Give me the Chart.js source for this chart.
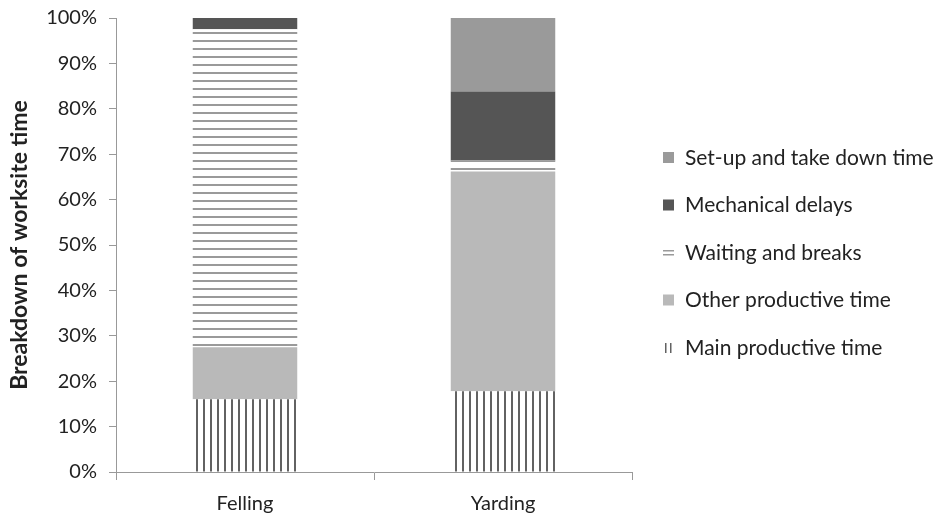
<!DOCTYPE html>
<html>
<head>
<meta charset="utf-8">
<script src="https://cdn.jsdelivr.net/npm/chart.js@4"></script>
<style>
  html, body { margin: 0; padding: 0; background: #fff; }
  #wrap { width: 936px; height: 521px; }
</style>
</head>
<body>
<div id="wrap"><canvas id="myChart" width="936" height="521"></canvas></div>
<script>
var categories = ['Felling', 'Yarding'];
var mainProductive = [16.0, 17.8];
var otherProductive = [11.5, 48.4];
var waitingBreaks = [70.0, 2.4];
var mechanicalDelays = [2.5, 15.2];
var setupTakedown = [0, 16.2];
var yTicks = [0, 10, 20, 30, 40, 50, 60, 70, 80, 90, 100];

function stripes(w, h, color, vertical) {
    var c = document.createElement('canvas');
    c.width = w;
    c.height = h;
    var g = c.getContext('2d');
    g.fillStyle = '#fff';
    g.fillRect(0, 0, w, h);
    g.fillStyle = color;
    if (vertical) g.fillRect(0, 0, 2, h);
    else g.fillRect(0, 0, w, 2);
    return g.createPattern(c, 'repeat');
}

var ctx = document.getElementById('myChart').getContext('2d');
var vLines = stripes(7, 7, '#626262', true);
var hLines = stripes(8, 8, '#9a9a9a', false);

var legendItems = [
    { text: 'Set-up and take down time', kind: 'fill', color: '#9a9a9a' },
    { text: 'Mechanical delays', kind: 'fill', color: '#555555' },
    { text: 'Waiting and breaks', kind: 'h', color: '#9a9a9a' },
    { text: 'Other productive time', kind: 'fill', color: '#b9b9b9' },
    { text: 'Main productive time', kind: 'v', color: '#626262' }
];

var sideLegend = {
    id: 'sideLegend',
    afterDraw: function (chart) {
        var g = chart.ctx;
        g.save();
        g.font = '21px Lato';
        g.textBaseline = 'middle';
        for (var i = 0; i < legendItems.length; i++) {
            var it = legendItems[i];
            var cy = 157 + i * 47.5;
            var x0 = 663, y0 = cy - 5;
            g.fillStyle = it.color;
            if (it.kind == 'fill') {
                g.fillRect(x0, y0, 11, 11);
            } else if (it.kind == 'h') {
                g.fillRect(x0, y0 + 3, 11, 1.5);
                g.fillRect(x0, y0 + 7, 11, 1.5);
            } else {
                g.fillRect(x0 + 2, y0 + 1, 1.5, 10);
                g.fillRect(x0 + 7, y0 + 1, 1.5, 10);
            }
            g.fillStyle = '#222';
            g.fillText(it.text, 685, cy + 1);
        }
        g.restore();
    }
};

var myChart = new Chart(ctx, {
    type: 'bar',
    data: {
        labels: categories,
        datasets: [
            { label: 'Main productive time', data: mainProductive, backgroundColor: vLines },
            { label: 'Other productive time', data: otherProductive, backgroundColor: '#b9b9b9' },
            { label: 'Waiting and breaks', data: waitingBreaks, backgroundColor: hLines },
            { label: 'Mechanical delays', data: mechanicalDelays, backgroundColor: '#555555' },
            { label: 'Set-up and take down time', data: setupTakedown, backgroundColor: '#9a9a9a' }
        ]
    },
    options: {
        responsive: false,
        animation: false,
        layout: { padding: { top: 18, right: 304, bottom: 0, left: 0 } },
        datasets: { bar: { categoryPercentage: 1, barPercentage: 0.405 } },
        plugins: {
            legend: { display: false },
            tooltip: { enabled: false }
        },
        scales: {
            x: {
                stacked: true,
                afterFit: function (s) { s.height = 49; },
                grid: { drawOnChartArea: false, tickLength: 8, color: '#999', offset: true },
                border: { color: '#999' },
                ticks: { color: '#222', font: { family: 'Lato', size: 20 }, padding: 12 }
            },
            y: {
                stacked: true,
                min: 0,
                max: 100,
                afterFit: function (s) {
                    s.width = 116;
                    s.paddingTop = 0;
                    s.paddingBottom = 0;
                },
                afterBuildTicks: function (s) {
                    s.ticks = yTicks.map(function (v) { return { value: v }; });
                },
                grid: { drawOnChartArea: false, tickLength: 7, color: '#999' },
                border: { color: '#999' },
                ticks: {
                    color: '#222',
                    font: { family: 'Lato', size: 20 },
                    padding: 12,
                    callback: function (v) { return v + '%'; }
                },
                title: {
                    display: true,
                    text: 'Breakdown of worksite time',
                    color: '#222',
                    font: { family: 'Lato', size: 23, weight: 'bold' },
                    padding: { top: 6, bottom: 4 }
                }
            }
        }
    },
    plugins: [sideLegend]
});
</script>
</body>
</html>
